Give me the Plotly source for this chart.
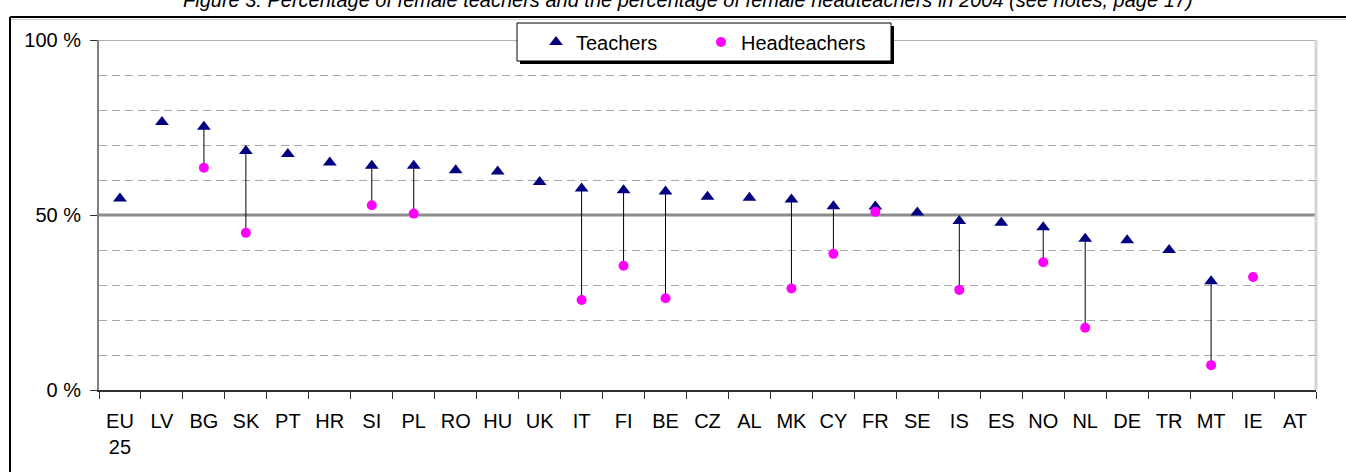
import plotly.graph_objects as go

# ---- data ----
categories = ["EU 25", "LV", "BG", "SK", "PT", "HR", "SI", "PL", "RO", "HU", "UK", "IT", "FI", "BE",
              "CZ", "AL", "MK", "CY", "FR", "SE", "IS", "ES", "NO", "NL", "DE", "TR", "MT", "IE", "AT"]
teachers = [54.7, 76.6, 75.2, 68.3, 67.4, 65.0, 64.1, 64.1, 62.8, 62.4, 59.4, 57.6, 57.1, 56.7,
            55.2, 54.9, 54.4, 52.5, 52.4, 50.7, 48.3, 47.8, 46.5, 43.2, 42.8, 40.0, 31.1, None, None]
headteachers = [None, None, 63.5, 44.9, None, None, 52.8, 50.4, None, None, None, 25.7, 35.5, 26.2,
                None, None, 29.0, 38.9, 50.9, None, 28.6, None, 36.5, 17.8, None, None, 7.1, 32.3, None]
tick_labels = [c.replace(" ", "<br>") for c in categories]
y_tick_vals = [0, 50, 100]
y_tick_text = ["0 %", "50 %", "100 %"]
minor_grid_vals = [10, 20, 30, 40, 60, 70, 80, 90]
title_text = ("Figure 3: Percentage of female teachers and the percentage of female "
              "headteachers in 2004 (see notes, page 17)")

# ---- geometry (pixels) ----
W, H = 1346, 472
L, R, T, B = 99, 1316, 40, 390
pw, ph = R - L, B - T


def px(x):
    return (x - L) / pw


def py(y):
    return (B - y) / ph


FONT = "Arial, Liberation Sans, sans-serif"

# connectors between teacher and headteacher values
cx, cy = [], []
for c, t, h in zip(categories, teachers, headteachers):
    if t is not None and h is not None:
        cx += [c, c, None]
        cy += [t, h, None]

fig = go.Figure()
fig.add_trace(go.Scatter(x=cx, y=cy, mode="lines", line=dict(color="#000000", width=1),
                         showlegend=False, hoverinfo="skip"))
fig.add_trace(go.Scatter(x=categories, y=teachers, mode="markers", name="Teachers",
                         marker=dict(symbol="triangle-up", size=12, color="#000080")))
fig.add_trace(go.Scatter(x=categories, y=headteachers, mode="markers", name="Headteachers",
                         marker=dict(symbol="circle", size=10, color="#FF00FF")))

shapes = [
    # 50 % reference line
    dict(type="line", xref="x domain", yref="y", x0=0, x1=1, y0=50, y1=50,
         line=dict(color="#8c8c8c", width=3), layer="below"),
    # top border of plot area
    dict(type="line", xref="x domain", yref="y", x0=0, x1=1, y0=100, y1=100,
         line=dict(color="#b0b0b0", width=2), layer="below"),
    # right border of plot area
    dict(type="line", xref="x domain", yref="y domain", x0=1, x1=1, y0=0, y1=1,
         line=dict(color="#d6d6d6", width=3), layer="below"),
    # outer frame
    dict(type="line", xref="paper", yref="paper", x0=px(10), x1=px(1360), y0=py(17), y1=py(17),
         line=dict(color="#000000", width=2)),
    dict(type="line", xref="paper", yref="paper", x0=px(10), x1=px(1360), y0=py(19.5), y1=py(19.5),
         line=dict(color="#cfcfcf", width=1)),
    dict(type="line", xref="paper", yref="paper", x0=px(10), x1=px(10), y0=py(17), y1=py(490),
         line=dict(color="#000000", width=2)),
    # legend box shadow and box
    dict(type="rect", xref="paper", yref="paper", x0=px(520), x1=px(894), y0=py(64), y1=py(26),
         fillcolor="#000000", line=dict(width=0), layer="above"),
    dict(type="rect", xref="paper", yref="paper", x0=px(517), x1=px(891), y0=py(61), y1=py(23),
         fillcolor="#ffffff", line=dict(color="#000000", width=1), layer="above"),
]

fig.update_layout(
    width=W, height=H,
    margin=dict(l=L, r=W - R, t=T, b=H - B, pad=0),
    paper_bgcolor="#ffffff", plot_bgcolor="#ffffff",
    font=dict(family=FONT, size=20, color="#000000"),
    showlegend=True,
    legend=dict(orientation="h", x=px(536), xanchor="left", y=py(42), yanchor="middle",
                bgcolor="rgba(0,0,0,0)", borderwidth=0, entrywidth=120, entrywidthmode="pixels",
                font=dict(family=FONT, size=20, color="#000000")),
    shapes=shapes,
    annotations=[dict(text="<i>" + title_text + "</i>", xref="paper", yref="paper",
                      x=px(688), y=py(0), xanchor="center", yanchor="middle", showarrow=False,
                      font=dict(family=FONT, size=20, color="#000000"))],
)

fig.update_xaxes(type="category", categoryorder="array", categoryarray=categories,
                 range=[-0.5, len(categories) - 0.5],
                 tickvals=categories, ticktext=tick_labels,
                 showline=True, linecolor="#303030", linewidth=2,
                 ticks="outside", tickson="boundaries", ticklen=7, tickwidth=1, tickcolor="#303030",
                 ticklabelstandoff=12,
                 showgrid=False, zeroline=False,
                 tickfont=dict(family=FONT, size=20, color="#000000"))
fig.update_yaxes(range=[0, 100], tickvals=y_tick_vals, ticktext=y_tick_text,
                 showline=True, linecolor="#808080", linewidth=2,
                 ticks="outside", ticklen=7, tickwidth=1, tickcolor="#303030",
                 ticklabelstandoff=5,
                 showgrid=False, zeroline=False,
                 tickfont=dict(family=FONT, size=20, color="#000000"),
                 minor=dict(tickvals=minor_grid_vals, showgrid=True, gridcolor="#a8a8a8",
                            gridwidth=1, griddash="8px,5px", ticks=""))

fig.write_html("out.html", config={"displayModeBar": False},
               post_script="document.body.style.margin='0';document.body.style.padding='0';")
